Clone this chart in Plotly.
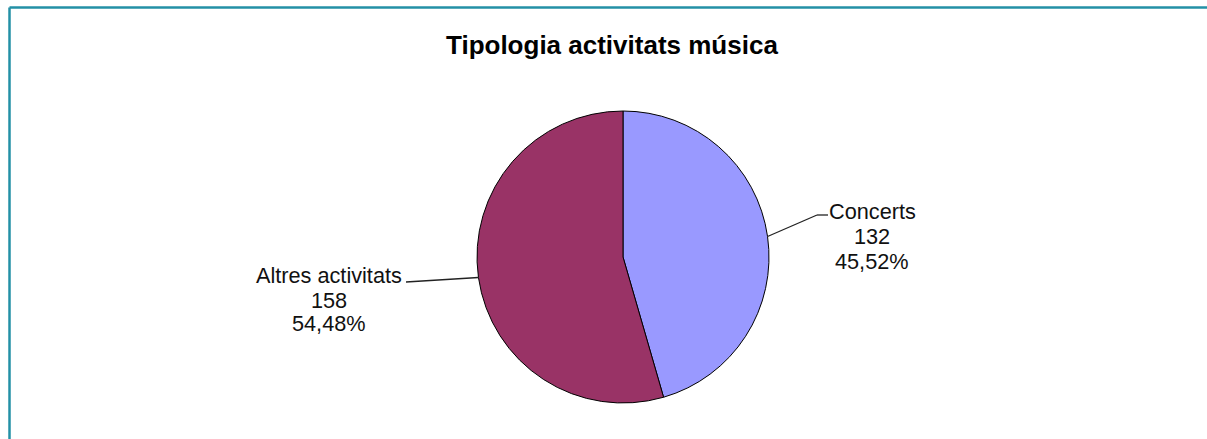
import math
import plotly.graph_objects as go

categories = ["Concerts", "Altres activitats"]
values = [132, 158]
colors = ["#9999ff", "#993366"]
title_text = "Tipologia activitats música"

W, H = 1207, 439
CX, CY, R = 623, 257, 146  # pie placement in pixels


def px(x):
    return x / W


def py(y):
    return 1 - y / H


fig = go.Figure()
fig.add_trace(go.Pie(
    labels=categories,
    values=values,
    marker=dict(colors=colors, line=dict(color="#000000", width=1)),
    sort=False,
    direction="clockwise",
    rotation=0,
    textinfo="none",
    hoverinfo="label+value+percent",
    showlegend=False,
    domain=dict(x=[px(CX - R), px(CX + R)], y=[py(CY + R), py(CY - R)]),
))

font = dict(family="Liberation Sans, Arial, sans-serif", size=21.7, color="#111111")
total = sum(values)
shapes = []
annotations = []

# label layouts (offsets for text block and leader elbow)
layouts = [
    dict(elbow=(817, 215), end=(828, 215), tx=872, ty=[212, 236, 261]),
    dict(elbow=(406, 282), end=(406, 282), tx=329, ty=[275, 300, 323]),
]

cum = 0
for i, (cat, v) in enumerate(zip(categories, values)):
    mid = (cum + v / 2) / total * 2 * math.pi
    cum += v
    ex = CX + R * math.sin(mid)
    ey = CY - R * math.cos(mid)
    lay = layouts[i]
    color = "#222222"
    shapes.append(dict(type="line", xref="paper", yref="paper",
                       x0=px(ex), y0=py(ey), x1=px(lay["elbow"][0]), y1=py(lay["elbow"][1]),
                       line=dict(color=color, width=1.3)))
    shapes.append(dict(type="line", xref="paper", yref="paper",
                       x0=px(lay["elbow"][0]), y0=py(lay["elbow"][1]),
                       x1=px(lay["end"][0]), y1=py(lay["end"][1]),
                       line=dict(color=color, width=1.3)))
    pct = f"{v / total * 100:.2f}".replace(".", ",") + "%"
    for txt, yy in zip([cat, str(v), pct], lay["ty"]):
        annotations.append(dict(text=txt, x=px(lay["tx"]), y=py(yy), xref="paper", yref="paper",
                                xanchor="center", yanchor="middle", showarrow=False, font=font))

annotations.append(dict(text="<b>" + title_text + "</b>", x=px(612), y=py(45), xref="paper", yref="paper",
                        xanchor="center", yanchor="middle", showarrow=False,
                        font=dict(family="Liberation Sans, Arial, sans-serif", size=26, color="#000000")))

# outer frame (top and left teal border)
border = "#2390a6"
shapes.append(dict(type="line", xref="paper", yref="paper", x0=px(9.5), y0=py(7.5), x1=1.0, y1=py(7.5),
                   line=dict(color=border, width=2.5)))
shapes.append(dict(type="line", xref="paper", yref="paper", x0=px(9.5), y0=py(7.5), x1=px(9.5), y1=0.0,
                   line=dict(color=border, width=2.5)))

fig.update_layout(
    width=W, height=H,
    margin=dict(l=0, r=0, t=0, b=0),
    paper_bgcolor="white", plot_bgcolor="white",
    shapes=shapes, annotations=annotations,
)

fig.write_html("out.html", config={"displayModeBar": False},
               post_script="document.body.style.margin='0';document.body.style.overflow='hidden';")
